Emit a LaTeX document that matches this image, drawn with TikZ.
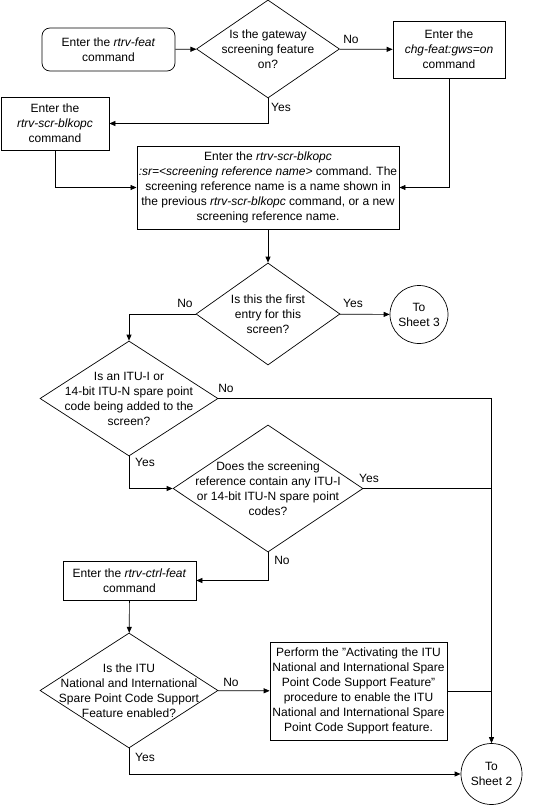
\documentclass[tikz,border=0pt]{standalone}
\usepackage{fontspec}
\setmainfont{Liberation Sans}[Ligatures=ResetAll]
\usetikzlibrary{shapes.geometric,arrows.meta}

\tikzset{
  proc/.style={draw, align=center, inner sep=2pt},
  start/.style={proc, rounded corners=8pt},
  decision/.style={draw, diamond, inner sep=0pt},
  qtext/.style={align=center, inner sep=0pt},
  sheet/.style={draw, circle, align=center, inner sep=0pt},
  lbl/.style={inner sep=0pt},
  conn/.style={-{Triangle[length=6pt,width=5pt]}},
}

\begin{document}
\begin{tikzpicture}[x=1pt, y=-1pt, line width=0.7pt, font=\fontsize{12}{15}\selectfont]
\useasboundingbox (0,0) rectangle (552,808);

  \node[start, minimum width=133, minimum height=43] (feat) at (108.5,49.5) {Enter the \textit{rtrv-feat}\\command}; %
  \node[decision, minimum width=143, minimum height=98] (q1) at (268,49) {}; %
  \node[qtext] (q1t) at (q1) {Is the gateway\\screening feature\\on?}; %
  \node[proc, minimum width=112, minimum height=57] (chg) at (449,49.5) {Enter the\\\textit{chg-feat:gws=on}\\command}; %
  \node[proc, minimum width=108, minimum height=53] (scr) at (55,123.5) {Enter the\\\textit{rtrv-scr-blkopc}\\command}; %
  \node[proc, minimum width=260, minimum height=83] (sr) at (268,187.5) {Enter the \textit{rtrv-scr-blkopc}\\\textit{:sr=<screening reference name>} command. The\\screening reference name is a name shown in\\the previous \textit{rtrv-scr-blkopc} command, or a new\\screening reference name.}; %

  \node[decision, minimum width=144, minimum height=102] (q2) at (268,314) {}; %
  \node[qtext] (q2t) at (q2) {Is this the first\\entry for this\\screen?}; %
  \node[sheet, minimum size=58] (s3) at (419,314.5) {To\\Sheet 3}; %

  \node[decision, minimum width=178, minimum height=115] (q3) at (129,398.5) {}; %
  \node[qtext] (q3t) at (q3) {Is an ITU-I or\\14-bit ITU-N spare point\\code being added to the\\screen?}; %
  \node[decision, minimum width=190, minimum height=127] (q4) at (268,488.5) {}; %
  \node[qtext] (q4t) at (q4) {Does the screening\\reference contain any ITU-I\\or 14-bit ITU-N spare point\\codes?}; %

  \node[proc, minimum width=133, minimum height=39] (ctrl) at (129.5,580.5) {Enter the \textit{rtrv-ctrl-feat}\\command}; %
  \node[decision, minimum width=178, minimum height=115] (q5) at (129,690.5) {}; %
  \node[qtext] (q5t) at (q5) {Is the ITU\\National and International\\Spare Point Code Support\\Feature enabled?}; %
  \node[proc, minimum width=177, minimum height=98] (act) at (358.5,691) {Perform the "Activating the ITU\\National and International Spare\\Point Code Support Feature"\\procedure to enable the ITU\\National and International Spare\\Point Code Support feature.}; %
  \node[sheet, minimum size=61] (s2) at (491.5,774) {To\\Sheet 2}; %

  % connectors
  \draw[conn] (feat) -- (q1); %
  \draw[conn] (q1) -- (chg); %
  \draw[conn] (q1.south) |- (scr.east); %
  \draw[conn] (scr.south) |- (sr.west); %
  \draw[conn] (chg.south) |- (sr.east); %
  \draw[conn] (sr) -- (q2); %
  \draw[conn] (q2) -- (s3); %
  \draw[conn] (q2.west) -| (q3.north); %
  \draw[conn] (q3.east) -| (s2.north); %
  \draw[conn] (q3.south) |- (q4.west); %
  \draw (q4.east) -- (q4.east -| s2); %
  \draw[conn] (q4.south) |- (ctrl.east); %
  \draw[conn] (ctrl) -- (q5); %
  \draw[conn] (q5) -- (act); %
  \draw (act.east) -- (act.east -| s2); %
  \draw[conn] (q5.south) |- (s2.west); %

  % yes / no labels
  \node[lbl] (n1) at (351,39) {No}; %
  \node[lbl] (y1) at (281,107) {Yes}; %
  \node[lbl] (n2) at (185,303) {No}; %
  \node[lbl] (y2) at (353,303) {Yes}; %
  \node[lbl] (n3) at (226,388) {No}; %
  \node[lbl] (y3) at (145,462) {Yes}; %
  \node[lbl] (y4) at (369,478) {Yes}; %
  \node[lbl] (n4) at (282,560) {No}; %
  \node[lbl] (n5) at (231,682) {No}; %
  \node[lbl] (y5) at (145,757) {Yes}; %

\end{tikzpicture}
\end{document}
